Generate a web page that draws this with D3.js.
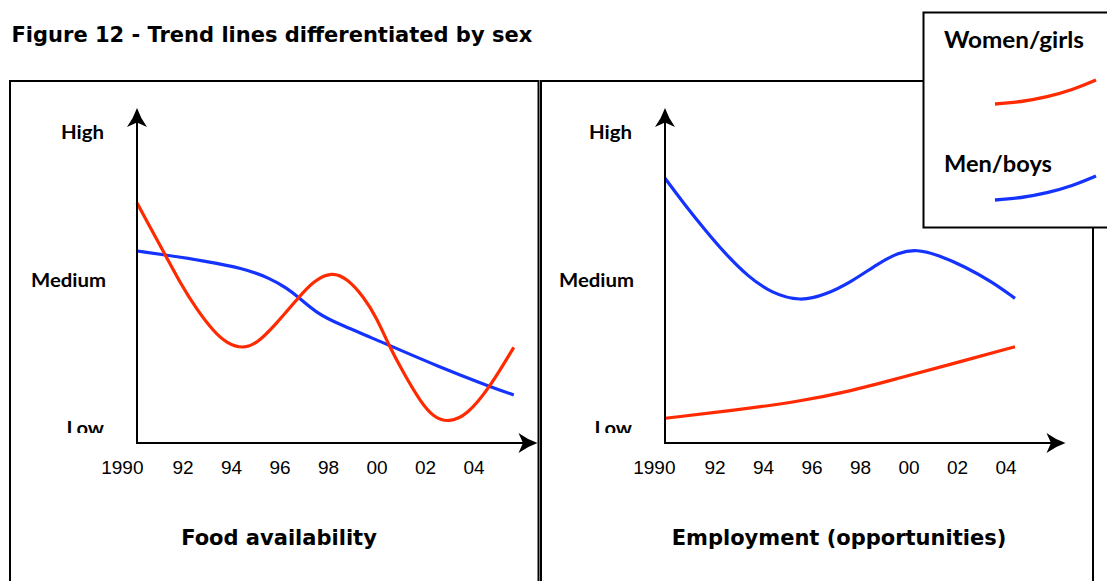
<!DOCTYPE html>
<html>
<head>
<meta charset="utf-8">
<script src="https://cdn.jsdelivr.net/npm/d3@7"></script>
<style>
  html, body { margin: 0; padding: 0; background: #fff; }
  svg { display: block; }
</style>
</head>
<body>
<svg id="chart" width="1107" height="581"></svg>
<script>
// ---------- data ----------
const titleText = "Figure 12 - Trend lines differentiated by sex";
const levelLabels = ["Low", "Medium", "High"];
const yearTicks = [1990, 1992, 1994, 1996, 1998, 2000, 2002, 2004];
const tickLabels = ["1990", "92", "94", "96", "98", "00", "02", "04"];
const seriesNames = ["Women/girls", "Men/boys"];
const panelTitles = ["Food availability", "Employment (opportunities)"];

// values: [year, level] where 0 = Low, 1 = Medium, 2 = High
const foodWomen = [
  [1990.10, 1.522], [1990.93, 1.270], [1991.27, 1.169], [1991.89, 0.978],
  [1992.58, 0.797], [1993.27, 0.651], [1993.81, 0.572], [1994.47, 0.535],
  [1995.05, 0.572], [1995.74, 0.684], [1996.77, 0.883], [1997.39, 0.995],
  [1998.14, 1.055], [1998.76, 1.011], [1999.45, 0.887], [2000.00, 0.741],
  [2000.48, 0.561], [2001.10, 0.370], [2001.79, 0.178], [2002.34, 0.070],
  [2002.96, 0.038], [2003.71, 0.085], [2004.67, 0.279], [2005.64, 0.545]
];
const foodMen = [
  [1990.10, 1.196], [1991.27, 1.169], [1992.85, 1.130], [1994.50, 1.079],
  [1995.60, 1.011], [1996.29, 0.944], [1996.77, 0.883], [1997.53, 0.775],
  [1998.35, 0.707], [2000.48, 0.561], [2002.47, 0.419], [2004.67, 0.279],
  [2005.64, 0.223]
];
const employmentWomen = [
  [1989.94, 0.066], [1992.69, 0.117], [1995.44, 0.178], [1997.50, 0.245],
  [1999.56, 0.336], [2001.62, 0.426], [2004.37, 0.549]
];
const employmentMen = [
  [1989.94, 1.687], [1990.76, 1.507], [1991.59, 1.338], [1992.41, 1.180],
  [1993.37, 1.022], [1994.34, 0.910], [1995.52, 0.855], [1996.54, 0.899],
  [1997.64, 0.989], [1998.74, 1.113], [1999.56, 1.185], [2000.32, 1.208],
  [2001.21, 1.169], [2002.31, 1.090], [2003.41, 0.989], [2004.37, 0.876]
];
// shape of the legend sample stroke (relative units)
const legendSample = [[0, 0], [26, -2.5], [52, -7.3], [77, -14.5], [101, -24]];

// ---------- styles / layout ----------
const RED = "#ff2a00", BLUE = "#1433ff";
const boldSans = "'DejaVu Sans', Verdana, sans-serif";
const handFont = "'Comic Sans MS', 'Lato', sans-serif";

const svg = d3.select("#chart");
const defs = svg.append("defs");

const panels = [
  { title: panelTitles[0], women: foodWomen, men: foodMen,
    boxX0: 10, boxX1: 538.5, axisX: 137, yearOrigin: 134.5, labelX: 279 },
  { title: panelTitles[1], women: employmentWomen, men: employmentMen,
    boxX0: 541, boxX1: 1093, axisX: 665, yearOrigin: 666.5, labelX: 839 }
];

const axisY = 443, arrowTopY = 108, axisLen = 400.5;
const y = d3.scaleLinear().domain([0, 2]).range([428, 132]);
const levelWidths = { "Low": 37.5, "Medium": 75, "High": 43 };

function arrowPath() {
  return "M0,0 Q-3.5,10 -10,19 L0,14.5 L10,19 Q3.5,10 0,0 Z";
}

panels.forEach((p, pi) => {
  const x = d3.scaleLinear().domain([1990, 2004])
    .range([p.yearOrigin, p.yearOrigin + 14 * 24.25]);
  const g = svg.append("g");

  // panel frame
  g.append("rect")
    .attr("x", p.boxX0).attr("y", 81)
    .attr("width", p.boxX1 - p.boxX0).attr("height", 540)
    .attr("fill", "none").attr("stroke", "#000").attr("stroke-width", 2);

  // clip for the "Low" label (cut just above the x axis as in reference)
  const clipId = "clipLow" + pi;
  defs.append("clipPath").attr("id", clipId)
    .append("rect").attr("x", p.axisX - 120).attr("y", 0)
    .attr("width", 120).attr("height", 433);

  // level labels
  levelLabels.forEach((lab, i) => {
    const t = g.append("text")
      .attr("x", p.axisX - 33 + (lab === "Medium" ? 2 : 0))
      .attr("y", y(i) + 7)
      .attr("text-anchor", "end")
      .attr("font-family", handFont)
      .attr("font-weight", "bold")
      .attr("font-size", 19)
      .attr("textLength", levelWidths[lab])
      .attr("lengthAdjust", "spacingAndGlyphs")
      .attr("fill", "#000")
      .text(lab);
    if (lab === "Low") t.attr("clip-path", `url(#${clipId})`);
  });

  // series lines
  const line = d3.line().x(d => x(d[0])).y(d => y(d[1]))
    .curve(d3.curveBasis);
  g.append("path").datum(p.men).attr("d", line)
    .attr("fill", "none").attr("stroke", BLUE).attr("stroke-width", 3.2);
  g.append("path").datum(p.women).attr("d", line)
    .attr("fill", "none").attr("stroke", RED).attr("stroke-width", 3.2);

  // axes
  g.append("line")
    .attr("x1", p.axisX).attr("y1", axisY + 1)
    .attr("x2", p.axisX).attr("y2", arrowTopY + 12)
    .attr("stroke", "#000").attr("stroke-width", 2);
  g.append("line")
    .attr("x1", p.axisX - 1).attr("y1", axisY)
    .attr("x2", p.axisX + axisLen - 12).attr("y2", axisY)
    .attr("stroke", "#000").attr("stroke-width", 2);
  g.append("path").attr("d", arrowPath())
    .attr("transform", `translate(${p.axisX},${arrowTopY})`).attr("fill", "#000");
  g.append("path").attr("d", arrowPath())
    .attr("transform", `translate(${p.axisX + axisLen},${axisY}) rotate(90)`)
    .attr("fill", "#000");

  // year tick labels
  yearTicks.forEach((yr, i) => {
    g.append("text")
      .attr("x", i === 0 ? x(yr) + 9 : x(yr))
      .attr("y", 474)
      .attr("text-anchor", i === 0 ? "end" : "middle")
      .attr("font-family", "'Liberation Sans', Arial, sans-serif")
      .attr("font-size", 19)
      .attr("fill", "#000")
      .text(tickLabels[i]);
  });

  // panel title
  g.append("text")
    .attr("x", p.labelX).attr("y", 545)
    .attr("text-anchor", "middle")
    .attr("font-family", boldSans).attr("font-weight", "bold")
    .attr("font-size", 21).attr("fill", "#000")
    .text(p.title);
});

// figure title
svg.append("text")
  .attr("x", 11.5).attr("y", 41.7)
  .attr("font-family", boldSans).attr("font-weight", "bold")
  .attr("font-size", 21).attr("fill", "#000")
  .text(titleText);

// legend
const lg = svg.append("g");
lg.append("rect")
  .attr("x", 923.5).attr("y", 12.5).attr("width", 220).attr("height", 215)
  .attr("fill", "#fff").attr("stroke", "#000").attr("stroke-width", 2);
const sampleLine = d3.line().x(d => d[0]).y(d => d[1]).curve(d3.curveMonotoneX);
const legendItems = [
  { name: seriesNames[0], color: RED, textY: 48.3, lineY: 104, width: 140 },
  { name: seriesNames[1], color: BLUE, textY: 171.7, lineY: 200, width: 108 }
];
legendItems.forEach(it => {
  lg.append("text")
    .attr("x", 944).attr("y", it.textY)
    .attr("font-family", handFont).attr("font-weight", "bold")
    .attr("font-size", 22).attr("fill", "#000")
    .attr("textLength", it.width).attr("lengthAdjust", "spacingAndGlyphs")
    .text(it.name);
  lg.append("path").datum(legendSample)
    .attr("d", sampleLine)
    .attr("transform", `translate(995,${it.lineY})`)
    .attr("fill", "none").attr("stroke", it.color).attr("stroke-width", 3.3);
});
</script>
</body>
</html>
